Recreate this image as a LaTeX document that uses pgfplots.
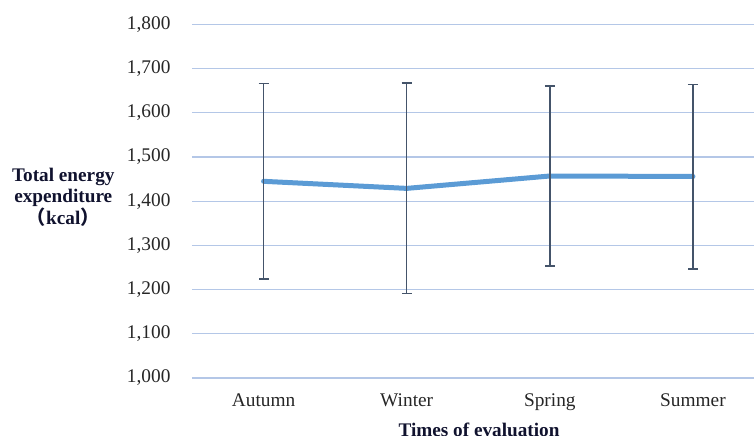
\documentclass[border=0pt]{standalone}
\usepackage{fontspec}
\setmainfont{Liberation Serif}
\newfontfamily\cjk{Noto Sans CJK JP}
\usepackage{pgfplots}
\pgfplotsset{compat=1.18}
\definecolor{linec}{HTML}{5B9BD5}
\definecolor{gridc}{HTML}{B4C7E7}
\definecolor{errc}{HTML}{44546A}
\definecolor{txt}{HTML}{262626}
\definecolor{lab}{HTML}{10122E}
\begin{document}
\begin{tikzpicture}
\begin{axis}[
 at={(0,0)}, anchor=south west,
 scale only axis, width=562bp, height=353.6bp,
 xmin=-0.5, xmax=3.4266, ymin=1000, ymax=1800,
 ytick={1000,1100,...,1800},
 xtick={0,1,2,3}, xticklabels={Autumn,Winter,Spring,Summer},
 axis line style={draw=none}, major tick length=0pt,
 ymajorgrids, grid style={gridc, line width=1.1bp},
 scaled y ticks=false,
 /pgf/number format/assume math mode=true,
 /pgf/number format/fixed,
 /pgf/number format/precision=0,
 /pgf/number format/1000 sep={,},
 y tick label style={font=\fontsize{19.4}{22}\selectfont, text=txt, anchor=east, xshift=-18bp},
 x tick label style={font=\fontsize{19.4}{22}\selectfont, text=txt, anchor=north, yshift=-12bp},
 xlabel={Times of evaluation},
 xlabel style={font=\bfseries\fontsize{19.3}{22}\selectfont, text=lab, at={(axis description cs:0.5107,0)}, anchor=north, yshift=-41bp},
 ylabel={Total energy\\expenditure\\{\cjk （}kcal{\cjk ）}},
 ylabel style={font=\bfseries\fontsize{19.3}{21.5}\selectfont, text=lab, rotate=-90, align=center, at={(axis description cs:-0.229,0.512)}, anchor=center},
]
\addplot[linec, line width=5bp, line cap=round, line join=round, mark=none,
  error bars/.cd, y dir=both, y explicit,
  error bar style={errc, line width=1.6bp, line cap=butt},
  error mark options={rotate=90, errc, mark size=5bp, line width=1.6bp}]
 coordinates {
 (0,1445) += (0,221) -= (0,221)
 (1,1429) += (0,238) -= (0,238)
 (2,1457) += (0,203) -= (0,204)
 (3,1456) += (0,208) -= (0,210)
 };
\end{axis}
\pgfresetboundingbox
\useasboundingbox (-192bp,-58bp) rectangle (562bp,378bp);
\end{tikzpicture}
\end{document}
